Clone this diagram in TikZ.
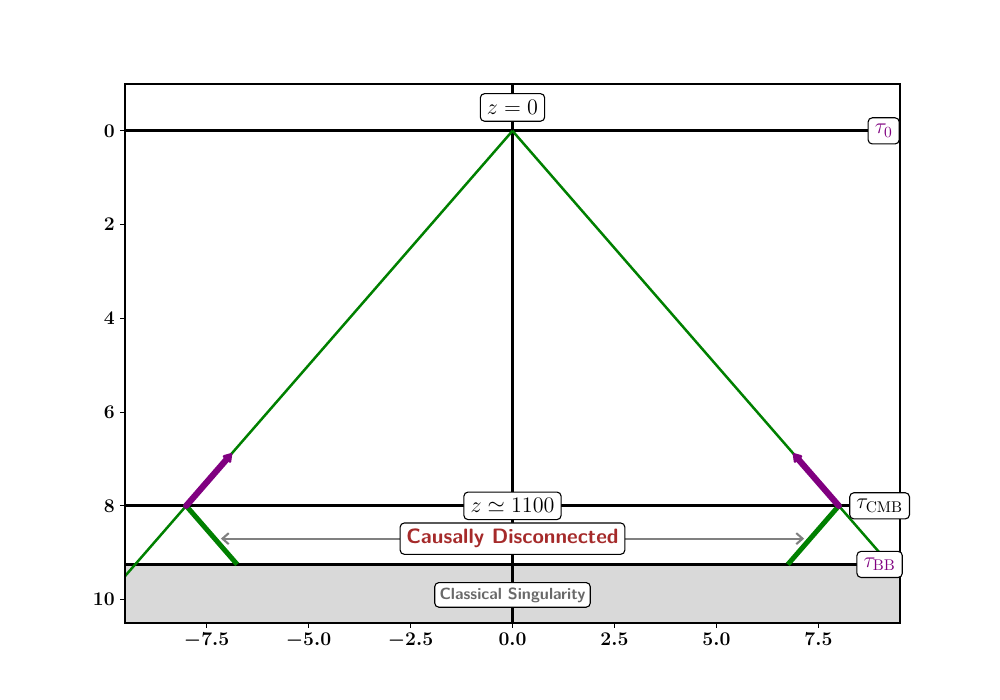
\documentclass[tikz,border=0pt]{standalone}
\usepackage{fix-cm}
\usetikzlibrary{arrows.meta}
\definecolor{mgreen}{RGB}{0,128,0}
\definecolor{mpurple}{RGB}{128,0,128}
\definecolor{mbrown}{RGB}{165,42,42}
\definecolor{mfill}{RGB}{217,217,217}
\definecolor{mgray}{RGB}{128,128,128}
\definecolor{mdim}{RGB}{105,105,105}
\begin{document}
\begin{tikzpicture}[x=0.254mm,y=-0.254mm,
  lbl/.style={draw=black, fill=white, rounded corners=3pt, line width=0.8pt, inner sep=4.8pt},
  mathlbl/.style={lbl, font=\fontsize{16}{19}\selectfont},
  hline/.style={black, line width=2pt},
  cone/.style={mgreen, line width=1.8pt},
  conethick/.style={mgreen, line width=3.6pt},
  signal/.style={mpurple, line width=4.5pt, line cap=round, -{Triangle[round,length=2.5mm,width=3mm]}},
  span/.style={mgray, line width=1.5pt, {Straight Barb[length=1.6mm,width=2.8mm]}-{Straight Barb[length=1.6mm,width=2.8mm]}},
  ticklbl/.style={font=\fontsize{14}{16}\selectfont\boldmath, inner sep=0pt},
  spine/.style={black, line width=0.8pt}]
\useasboundingbox (0,0) rectangle (1000,700);
\begin{scope}[shift={(512.5,130.87)}, x=10.3604mm, y=-11.905mm]
  % named coordinates
  \coordinate (O) at (0,0);
  \coordinate (L) at (-8,8);
  \coordinate (R) at (8,8);
  \coordinate (Lfar) at (-10,10);
  \coordinate (Rfar) at (10,10);
  \coordinate (Lbb) at (-6.75,9.25);
  \coordinate (Rbb) at (6.75,9.25);
  \coordinate (Ltip) at (-6.88,6.88);
  \coordinate (Rtip) at (6.88,6.88);
  \coordinate (Aleft) at (-7.15,8.7);
  \coordinate (Aright) at (7.15,8.7);
  \begin{scope}
    \clip (-9.5,-1) rectangle (9.5,10.5);
    \fill[mfill] (-9.5,9.25) rectangle (9.5,10.5);
    \draw[hline] (-9.5,0) -- (9.5,0);
    \draw[hline] (-9.5,8) -- (9.5,8);
    \draw[hline] (-9.5,9.25) -- (9.5,9.25);
    \draw[black, line width=2pt] (0,-1) -- (0,10.5);
    \draw[cone] (O) -- (Lfar);
    \draw[cone] (O) -- (Rfar);
    \draw[conethick] (L) -- (Lbb);
    \draw[conethick] (R) -- (Rbb);
    \fill[mgreen] (L) circle (0.8mm);
    \fill[mgreen] (R) circle (0.8mm);
    \draw[signal] (L) -- (Ltip);
    \draw[signal] (R) -- (Rtip);
    \draw[span] (Aleft) -- (Aright);
  \end{scope}
  % spines
  \draw[spine] (-9.5,-1) rectangle (9.5,10.5);
  % ticks
  \foreach \xv/\lab in {-7.5/{-7.5},-5/{-5.0},-2.5/{-2.5},0/{0.0},2.5/{2.5},5/{5.0},7.5/{7.5}}{
    \draw[spine] (\xv,10.5) -- ++(0,0.1045) node[ticklbl, anchor=north, yshift=-3.5pt] {$\lab$};
  }
  \foreach \yv in {0,2,4,6,8,10}{
    \draw[spine] (-9.5,\yv) -- ++(-0.1201,0) node[ticklbl, anchor=east, xshift=-3.5pt] {$\yv$};
  }
  % labels
  \node[mathlbl] (z0) at (0,-0.5) {$z=0$};
  \node[mathlbl, text=mpurple] (tau0) at (9.1,0) {$\tau_0$};
  \node[mathlbl] (tcmb) at (9.0,8) {$\tau_{\mathrm{CMB}}$};
  \node[mathlbl, text=mpurple] (tbb) at (9.0,9.25) {$\tau_{\mathrm{BB}}$};
  \node[mathlbl] (z1100) at (0,8) {$z\simeq 1100$};
  \node[lbl, inner sep=4.5pt, text=mbrown, font=\fontsize{15}{18}\selectfont\sffamily\bfseries] (cd) at (0,8.7) {Causally Disconnected};
  \node[lbl, inner sep=3.5pt, text=mdim, font=\fontsize{11.7}{14}\selectfont\sffamily\bfseries] (cs) at (0,9.9) {Classical Singularity};
\end{scope}
\end{tikzpicture}
\end{document}
